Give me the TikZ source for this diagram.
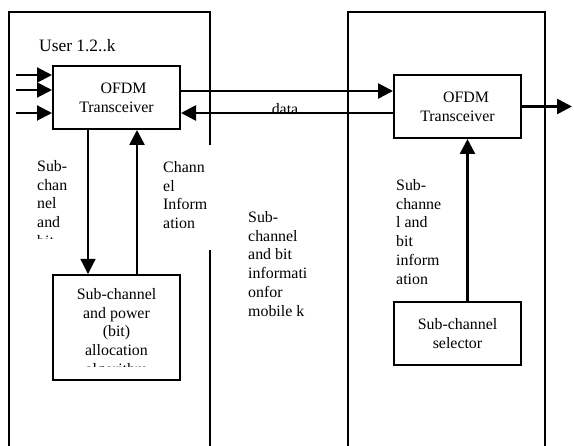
\documentclass[tikz,border=0pt]{standalone}
\usepackage{fontspec}
\setmainfont{Liberation Serif}
\usetikzlibrary{calc}
\usetikzlibrary{arrows.meta}
\usetikzlibrary{positioning}

\tikzset{
  blockbox/.style={draw, line width=2pt, minimum width=127pt, minimum height=63pt, align=center, inner sep=0pt},
  labeltext/.style={anchor=north west, align=left, inner sep=0pt},
  bigarrow/.style={line width=2.6pt, -{Triangle[length=15pt,width=15pt]}},
  thinarrow/.style={line width=1.2pt, -{Triangle[length=15pt,width=15pt]}},
  frameline/.style={line width=2.2pt},
}

\begin{document}
\begin{tikzpicture}[x=1pt, y=-1pt, font=\fontsize{15.9}{18.8}\selectfont]
            \useasboundingbox                                                 (0,0) rectangle (574,446);
            % User frame and base station frame
            \draw[frameline] (9,446) -- (9,12) -- (210,12) -- (210,145);
            \draw[frameline] (210,250) -- (210,446);
            \draw[frameline] (348,446) -- (348,12) -- (545,12) -- (545,446);
            \node[anchor=base west, inner sep=0pt, font=\fontsize{17.4}{20}\selectfont] (user) at (39,52) {User 1.2..k};
            % Blocks
            \node[blockbox]                                   (ofdmA)    at (116.5, 97.5) {\hspace*{14pt}OFDM\\Transceiver};
            \node[blockbox]                                   (ofdmB)    at (457.5,106.5) {\hspace*{17pt}OFDM\\Transceiver};
            \node[blockbox, minimum height=105pt, below=144pt of ofdmA] (algo) {};
            \node[blockbox, below=162pt of ofdmB]             (selector) {Sub-channel\\selector};
            \begin{scope}
              \clip (algo.north west) rectangle ([yshift=-93pt]algo.north east);
              \node[anchor=north, align=center, inner sep=0pt] (algoText) at ([yshift=-14pt]algo.north)
                   {Sub-channel\\and power\\(bit)\\allocation\\algorithm};
            \end{scope}
            % Inputs of the user transceiver
            \foreach \y [count=\i] in {75,90,113} {
              \coordinate (in\i) at (16,\y);
              \draw[bigarrow, line width=2pt] (in\i) -- (ofdmA.west |- in\i);
            }
            % Link between the transceivers
            \coordinate (fwd)  at ($(ofdmA.north east)!0.4!(ofdmA.south east)$);
            \coordinate (back) at ($(ofdmB.north west)!0.6!(ofdmB.south west)$);
            \draw[bigarrow] (fwd)  -- (ofdmB.west |- fwd);
            \draw[bigarrow] (back) -- (ofdmA.east |- back);
            \node[anchor=base, inner sep=0pt] (dataLbl) at (285,115) {data};
            \coordinate (out) at (572,0);
            \draw[bigarrow] (ofdmB.east) -- (ofdmB.east -| out);
            % Vertical links
            \draw[thinarrow] ([xshift=-28.5pt]ofdmA.south) -- ([xshift=-28.5pt]algo.north);
            \draw[bigarrow]  ([xshift=20.5pt]algo.north)    -- ([xshift=20.5pt]ofdmA.south);
            \draw[bigarrow]  ([xshift=10pt]selector.north)  -- ([xshift=10pt]ofdmB.south);
            % Labels
            \begin{scope}
              \clip (30,150) rectangle (85,239);
              \node[labeltext] (subLbl) at (37,160) {Sub-\\chan\\nel\\and\\bit};
            \end{scope}
            \node[labeltext] (chanLbl)  at (163,161) {Chann\\el\\Inform\\ation};
            \node[labeltext] (mobLbl)   at (248,211) {Sub-\\channel\\and bit\\informati\\onfor\\mobile k};
            \node[labeltext] (selLbl)   at (396,179) {Sub-\\channe\\l and\\bit\\inform\\ation};
\end{tikzpicture}
\end{document}
